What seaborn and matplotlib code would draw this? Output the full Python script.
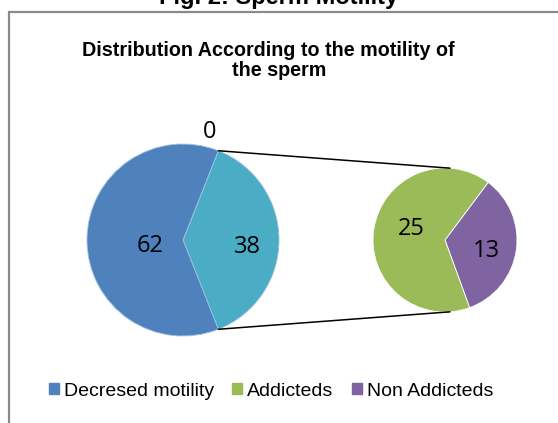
import numpy as np
import matplotlib
matplotlib.use("Agg")
import matplotlib.pyplot as plt
import seaborn as sns
from matplotlib.patches import Rectangle

# data
main_labels = ['Other', 'Zero', 'Decresed motility']
main_values = [38, 0, 62]
sub_labels = ['Non Addicteds', 'Addicteds']
sub_values = [13, 25]
legend_labels = ['Decresed motility', 'Addicteds', 'Non Addicteds']

sns.set_theme(style="white")
plt.rcParams['font.family'] = ['Liberation Sans', 'DejaVu Sans']
plt.rcParams['text.color'] = 'black'

blue, teal, green, purple = '#4F81BD', '#4BACC6', '#9BBB59', '#8064A2'
main_colors = [teal, teal, blue]
sub_colors = [purple, green]

W, H = 558, 423
fig = plt.figure(figsize=(W / 100, H / 100), dpi=100)
ax = fig.add_axes([0, 0, 1, 1])
ax.set_xlim(0, W)
ax.set_ylim(0, H)
ax.set_aspect('equal')
ax.axis('off')

# outer frame (cropped on right/bottom)
ax.add_patch(Rectangle((9, -20), W + 20, H - 12 + 20, fill=False,
                       edgecolor='#8a8a8a', lw=1.6))

c1, r1 = (183, 183), 96
c2, r2 = (445, 183), 72
start1 = -68.4
start2 = -70

w1, _ = ax.pie(main_values, colors=main_colors, startangle=start1,
               center=c1, radius=r1, counterclock=True,
               wedgeprops=dict(linewidth=0.6, edgecolor='#9fc3e0'))
w2, _ = ax.pie(sub_values, colors=sub_colors, startangle=start2,
               center=c2, radius=r2, counterclock=True,
               wedgeprops=dict(linewidth=0.6, edgecolor='white'))
ax.set_xlim(0, W)
ax.set_ylim(0, H)

num_font = dict(family=['Open Sans', 'DejaVu Sans'], fontsize=17, color='black',
                ha='center', va='center')


def place(center, r, theta_deg, frac, text):
    t = np.deg2rad(theta_deg)
    ax.text(center[0] + frac * r * np.cos(t), center[1] + frac * r * np.sin(t),
            text, **num_font)


# main pie labels
ang = start1
edges1 = []
for v in main_values:
    a0 = ang
    ang += v / sum(main_values) * 360
    edges1.append((a0, ang))
place(c1, r1, np.mean(edges1[0]) - 6, 0.68, str(main_values[0]))
place(c1, r1, edges1[1][0] + 8, 1.16, str(main_values[1]))
place(c1, r1, np.mean(edges1[2]) + 10, 0.35, str(main_values[2]))

ang = start2
edges2 = []
for v in sub_values:
    a0 = ang
    ang += v / sum(sub_values) * 360
    edges2.append((a0, ang))
place(c2, r2, np.mean(edges2[0]) - 7, 0.6, str(sub_values[0]))
place(c2, r2, np.mean(edges2[1]) - 10, 0.5, str(sub_values[1]))

# connector lines
top_t = np.deg2rad(edges1[0][1])
bot_t = np.deg2rad(edges1[0][0])
for t1, t2 in [(top_t, np.deg2rad(86)), (bot_t, np.deg2rad(-86))]:
    ax.plot([c1[0] + r1 * np.cos(t1), c2[0] + r2 * np.cos(t2)],
            [c1[1] + r1 * np.sin(t1), c2[1] + r2 * np.sin(t2)],
            color='black', lw=1.1)

# titles
fig.text(0.5, 1.0 - 4 / H, 'Fig. 2: Sperm Motility', ha='center', va='baseline',
         fontsize=17, fontweight='bold')
fig.text(268 / W, 1.0 - 51 / H, 'Distribution According to the motility of',
         ha='center', va='center', fontsize=14.2, fontweight='bold')
fig.text(279 / W, 1.0 - 70 / H, 'the sperm',
         ha='center', va='center', fontsize=14.2, fontweight='bold')

# legend
handles = [Rectangle((0, 0), 1, 1, color=c) for c in [blue, green, purple]]
fig.legend(handles, legend_labels, loc='center', bbox_to_anchor=(271 / W, 1 - 391 / H),
           ncol=3, frameon=False, fontsize=14, handlelength=0.52,
           handleheight=0.52, handletextpad=0.25, columnspacing=0.95)

fig.savefig('out.png', dpi=100)
